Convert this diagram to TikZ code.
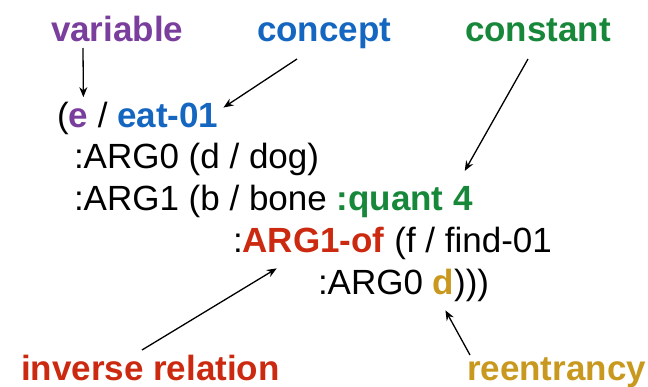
\documentclass[tikz,border=0pt]{standalone}
\usepackage{fontspec}
\setmainfont{Liberation Sans}
\usetikzlibrary{arrows.meta}
\definecolor{cvar}{HTML}{7A3E9D}
\definecolor{ccon}{HTML}{1466C0}
\definecolor{cconst}{HTML}{17873A}
\definecolor{cinv}{HTML}{CC2A10}
\definecolor{creen}{HTML}{C8991E}
\begin{document}
\begin{tikzpicture}[x=1pt,y=-1pt,
  txt/.style={inner sep=0pt, outer sep=0pt, anchor=base west, font=\fontsize{35}{42}\selectfont},
  lbl/.style={txt, font=\fontsize{35}{42}\selectfont\bfseries},
  arr/.style={-{Stealth[length=10pt,width=8pt]}, line width=1.3pt}]
\useasboundingbox (0,0) rectangle (648,386);
% labels
\node[lbl,text=cvar] (variable) at (51,41) {variable};
\node[lbl,text=ccon] (concept) at (257,41) {concept};
\node[lbl,text=cconst] (constant) at (465,41) {constant};
\node[lbl,text=cinv] (inverse) at (21,380) {inverse relation};
\node[lbl,text=creen] (reent) at (467,380) {reentrancy};
% line 1
\node[txt] (l1a) at (57,127) {(};
\node[lbl,text=cvar] (e) at (l1a.base east) {e};
\node[txt] (l1b) at (e.base east) {\ /\ \null};
\node[lbl,text=ccon] (eat) at (l1b.base east) {eat-01};
% line 2
\node[txt] (l2) at (74,168) {:ARG0 (d / dog)};
% line 3
\node[txt] (l3) at (74,210) {:ARG1 (b / bone\ \null};
\node[lbl,text=cconst] (quant) at (l3.base east) {:quant 4};
% line 4
\node[txt] (l4a) at (233,252) {:};
\node[lbl,text=cinv] (argof) at (l4a.base east) {ARG1-of};
\node[txt] (l4b) at (argof.base east) {\ (f / find-01};
% line 5
\node[txt] (l5a) at (318,294) {:ARG0\ \null};
\node[lbl,text=creen] (d) at (l5a.base east) {d};
\node[txt] (l5b) at (d.base east) {)))};
% arrow tails
\coordinate (tvar) at (83,48);
\coordinate (tcon) at (297,59);
\coordinate (tconst) at (528,59);
\coordinate (tinv) at (142,350);
\coordinate (treen) at (470,355);
% arrows
\draw[arr] (tvar) -- ([xshift=5pt,yshift=11pt]e.north);
\draw[arr] (tcon) -- ([xshift=5pt,yshift=-5pt]eat.north east);
\draw[arr] (tconst) -- ([xshift=-8pt,yshift=15pt]quant.north east);
\draw[arr] (tinv) -- ([xshift=34pt,yshift=-16pt]argof.south west);
\draw[arr] (treen) -- ([xshift=2pt,yshift=-16pt]d.south);
\end{tikzpicture}
\end{document}
